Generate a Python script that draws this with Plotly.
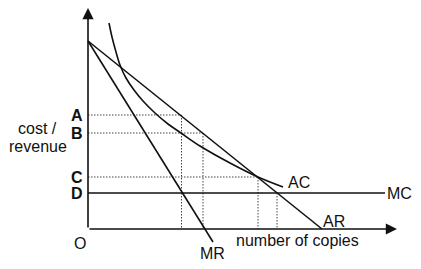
import plotly.graph_objects as go

# Price levels (vertical units) and quantities (horizontal units)
price_labels = ["A", "B", "C", "D"]
price_levels = [114, 96, 52, 36]

# Demand (AR) and marginal revenue (MR) lines
ar_q = [0, 234]
ar_p = [188, 0]
mr_q = [0, 125]
mr_p = [188, -13]

# Marginal cost (flat)
mc_q = [0, 297]
mc_p = [36, 36]

# Average cost curve
ac_q = [21, 24, 28, 32, 38, 46, 55, 67, 80, 93, 112, 142, 170, 195]
ac_p = [206, 192, 177, 164, 151, 139, 128, 116, 105, 96, 83, 66, 52, 42]

# Guide lines: (end quantity of horizontal, level)
guide_h_q = [93.5, 115, 170]          # A, B, C horizontal ends
guide_h_p = [114, 96, 52]
guide_v_q = [93.5, 115, 170, 189]     # vertical drops
guide_v_p = [114, 96, 52, 36]

x_tip = 309
y_tip = 221

line_col = "#111111"
dot_col = "#444444"
font_fam = "Liberation Sans, Arial, sans-serif"

fig = go.Figure()

# dotted guides
for q, p in zip(guide_h_q, guide_h_p):
    fig.add_trace(go.Scatter(x=[0, q], y=[p, p], mode="lines",
                             line=dict(color=dot_col, width=1, dash="1.5px,1.5px"),
                             hoverinfo="skip"))
for q, p in zip(guide_v_q, guide_v_p):
    fig.add_trace(go.Scatter(x=[q, q], y=[p, 0], mode="lines",
                             line=dict(color=dot_col, width=1, dash="1.5px,1.5px"),
                             hoverinfo="skip"))

# main curves
fig.add_trace(go.Scatter(x=ar_q, y=ar_p, mode="lines",
                         line=dict(color=line_col, width=1.6), hoverinfo="skip"))
fig.add_trace(go.Scatter(x=mr_q, y=mr_p, mode="lines",
                         line=dict(color=line_col, width=1.6), hoverinfo="skip"))
fig.add_trace(go.Scatter(x=mc_q, y=mc_p, mode="lines",
                         line=dict(color=line_col, width=1.6), hoverinfo="skip"))
fig.add_trace(go.Scatter(x=ac_q, y=ac_p, mode="lines",
                         line=dict(color=line_col, width=1.6, shape="spline", smoothing=1.0),
                         hoverinfo="skip"))

annotations = []
# axes with arrows
annotations.append(dict(x=0, y=y_tip, ax=0, ay=0, xref="x", yref="y", axref="x", ayref="y",
                        showarrow=True, arrowhead=2, arrowsize=1.4, arrowwidth=1.6,
                        arrowcolor=line_col, text=""))
annotations.append(dict(x=x_tip, y=0, ax=0, ay=0, xref="x", yref="y", axref="x", ayref="y",
                        showarrow=True, arrowhead=2, arrowsize=1.4, arrowwidth=1.6,
                        arrowcolor=line_col, text=""))

def lab(text, x, y, bold=False, size=16, xanchor="center"):
    annotations.append(dict(x=x, y=y, xref="x", yref="y", text=f"<b>{text}</b>" if bold else text,
                            showarrow=False, xanchor=xanchor, yanchor="middle",
                            font=dict(family=font_fam, size=size, color="#111111")))

for name, lvl in zip(price_labels, price_levels):
    lab(name, -11, lvl, bold=True, size=16)

lab("cost /", -51, 101)
lab("revenue", -50, 83)
lab("O", -8, -14)
lab("MR", 124, -24)
lab("number of copies", 209, -11)
lab("AR", 246, 8)
lab("AC", 211, 47)
lab("MC", 311, 36)

fig.update_layout(
    width=421, height=269,
    margin=dict(l=0, r=0, t=0, b=0),
    paper_bgcolor="white", plot_bgcolor="white",
    showlegend=False,
    xaxis=dict(range=[-88, 333], visible=False, fixedrange=True),
    yaxis=dict(range=[-40, 229], visible=False, fixedrange=True),
    annotations=annotations,
)

fig.write_html("out.html", config={"displayModeBar": False})
